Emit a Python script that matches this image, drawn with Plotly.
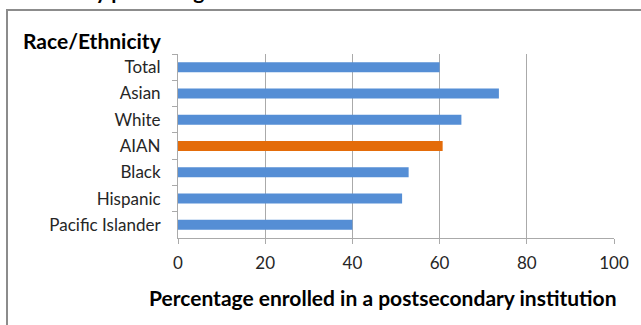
import plotly.graph_objects as go

# Postsecondary enrollment by race/ethnicity
groups = ["Total", "Asian", "White", "AIAN", "Black", "Hispanic", "Pacific Islander"]
percent_enrolled = [60.0, 73.6, 65.0, 60.7, 52.9, 51.4, 40.0]
highlight_group = "AIAN"
x_ticks = [0, 20, 40, 60, 80, 100]

BLUE = "#558ED5"
ORANGE = "#E46C0A"
GRID = "#aaaaaa"
FONT = "Lato, 'Open Sans', sans-serif"

colors = [ORANGE if g == highlight_group else BLUE for g in groups]

W, H = 641, 325
L, R, T, B = 178, 27, 54, 87
plot_h = H - T - B
plot_w = W - L - R

fig = go.Figure(
    go.Bar(
        x=percent_enrolled,
        y=groups,
        orientation="h",
        marker=dict(color=colors, line=dict(width=0)),
        hoverinfo="x+y",
    )
)

fig.update_layout(
    width=W,
    height=H,
    margin=dict(l=L, r=R, t=T, b=B),
    paper_bgcolor="white",
    plot_bgcolor="white",
    bargap=0.62,
    showlegend=False,
    font=dict(family=FONT, color="#262626", size=17),
    xaxis=dict(
        range=[0, 100],
        tickvals=x_ticks,
        ticktext=[str(v) for v in x_ticks],
        showgrid=True,
        gridcolor=GRID,
        gridwidth=1,
        showline=True,
        linecolor=GRID,
        linewidth=1,
        ticks="outside",
        ticklen=5,
        tickcolor=GRID,
        ticklabelstandoff=5,
        zeroline=False,
        tickfont=dict(size=17),
    ),
    yaxis=dict(
        autorange="reversed",
        showline=True,
        linecolor=GRID,
        linewidth=1,
        ticks="outside",
        ticklen=5,
        tickcolor=GRID,
        tickson="boundaries",
        showgrid=False,
        ticklabelstandoff=13,
        tickfont=dict(size=17),
    ),
)

def px_x(p):
    return (p - L) / plot_w

def px_y(p):
    return (T + plot_h - p) / plot_h

# outer frame around the chart
fig.add_shape(
    type="rect", xref="paper", yref="paper",
    x0=px_x(7), x1=px_x(700), y0=px_y(400), y1=px_y(10),
    line=dict(color="#8c8c8c", width=2), fillcolor="rgba(0,0,0,0)", layer="below",
)

fig.add_annotation(
    text="<b>by percentage</b>", xref="paper", yref="paper",
    x=px_x(82), y=px_y(5), xanchor="left", yanchor="bottom",
    showarrow=False, font=dict(size=21, color="#000000"),
)

fig.add_annotation(
    text="<b>Race/Ethnicity</b>", xref="paper", yref="paper",
    x=px_x(21), y=px_y(40), xanchor="left", yanchor="middle",
    showarrow=False, font=dict(size=21, color="#000000"),
)

fig.add_annotation(
    text="<b>Percentage enrolled in a postsecondary institution</b>",
    xref="paper", yref="paper",
    x=px_x(383), y=px_y(297), xanchor="center", yanchor="middle",
    showarrow=False, font=dict(size=21, color="#000000"),
)

fig.write_html("out.html")
